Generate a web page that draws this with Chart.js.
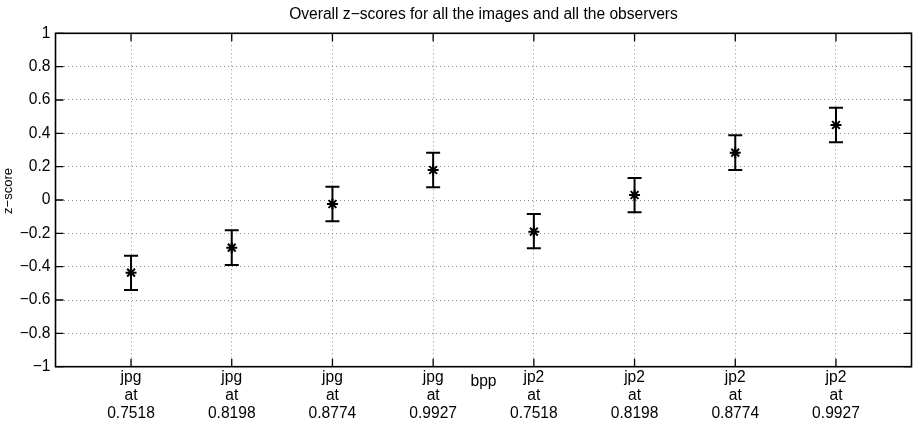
<!DOCTYPE html>
<html>
<head>
<meta charset="utf-8">
<script src="https://cdn.jsdelivr.net/npm/chart.js@4/dist/chart.umd.min.js"></script>
<style>
html,body{margin:0;padding:0;background:#fff;}
#c{display:block;}
</style>
</head>
<body>
<canvas id="c" width="919" height="423"></canvas>
<script>
// ---- data ----
const titleText = 'Overall z\u2212scores for all the images and all the observers';
const yLabelText = 'z\u2212score';
const xLabelText = 'bpp';
const positions = [1, 2, 3, 4, 5, 6, 7, 8];
const codecs = ['jpg', 'jpg', 'jpg', 'jpg', 'jp2', 'jp2', 'jp2', 'jp2'];
const bppValues = ['0.7518', '0.8198', '0.8774', '0.9927', '0.7518', '0.8198', '0.8774', '0.9927'];
const zScores = [-0.436, -0.286, -0.024, 0.180, -0.190, 0.030, 0.284, 0.450];
const upperBounds = [-0.334, -0.182, 0.080, 0.284, -0.084, 0.132, 0.388, 0.554];
const lowerBounds = [-0.540, -0.390, -0.128, 0.076, -0.290, -0.074, 0.180, 0.346];
const yTicks = [-1, -0.8, -0.6, -0.4, -0.2, 0, 0.2, 0.4, 0.6, 0.8, 1];
const yTickLabels = ['\u22121', '\u22120.8', '\u22120.6', '\u22120.4', '\u22120.2', '0', '0.2', '0.4', '0.6', '0.8', '1'];

const xTickLabels = positions.map((p, i) => [codecs[i], 'at', bppValues[i]]);
const points = positions.map((p, i) => ({x: p, y: zScores[i]}));

const FONT = "'Liberation Sans', Arial, Helvetica, sans-serif";
const FS = 15.6;

const decorPlugin = {
  id: 'decor',
  afterDatasetsDraw(chart) {
    const {ctx, chartArea: a, scales: {x, y}} = chart;
    ctx.save();
    // error bars
    ctx.strokeStyle = '#000';
    ctx.lineWidth = 2;
    const cap = 7;
    positions.forEach((p, i) => {
      const px = x.getPixelForValue(p);
      const yt = y.getPixelForValue(upperBounds[i]);
      const yb = y.getPixelForValue(lowerBounds[i]);
      ctx.beginPath();
      ctx.moveTo(px, yt); ctx.lineTo(px, yb);
      ctx.moveTo(px - cap, yt); ctx.lineTo(px + cap, yt);
      ctx.moveTo(px - cap, yb); ctx.lineTo(px + cap, yb);
      ctx.stroke();
    });
    // inward tick marks
    ctx.lineWidth = 1.3;
    const tl = 8;
    ctx.beginPath();
    positions.forEach(p => {
      const px = x.getPixelForValue(p);
      ctx.moveTo(px, a.top); ctx.lineTo(px, a.top + tl);
      ctx.moveTo(px, a.bottom); ctx.lineTo(px, a.bottom - tl);
    });
    yTicks.forEach(v => {
      const py = y.getPixelForValue(v);
      ctx.moveTo(a.left, py); ctx.lineTo(a.left + tl, py);
      ctx.moveTo(a.right, py); ctx.lineTo(a.right - tl, py);
    });
    ctx.stroke();
    // box
    ctx.lineWidth = 1.6;
    ctx.strokeRect(a.left, a.top, a.right - a.left, a.bottom - a.top);
    // texts
    ctx.fillStyle = '#000';
    const cx = (a.left + a.right) / 2;
    ctx.font = FS + 'px ' + FONT;
    ctx.textAlign = 'center';
    ctx.textBaseline = 'middle';
    ctx.fillText(titleText, cx, 14.5);
    ctx.fillText(xLabelText, cx, 381.5);
    ctx.save();
    ctx.font = '13px ' + FONT;
    ctx.translate(8.5, 191);
    ctx.rotate(-Math.PI / 2);
    ctx.fillText(yLabelText, 0, 0);
    ctx.restore();
    ctx.restore();
  }
};

new Chart(document.getElementById('c'), {
  type: 'scatter',
  data: {
    datasets: [{
      data: points,
      showLine: false,
      pointStyle: 'star',
      pointRadius: 5.5,
      pointHoverRadius: 5.5,
      borderColor: '#000',
      backgroundColor: '#000',
      borderWidth: 2
    }]
  },
  options: {
    responsive: false,
    animation: false,
    devicePixelRatio: 1,
    layout: {padding: {top: 33.3, left: 0, right: -0.5, bottom: 0}},
    plugins: {legend: {display: false}, title: {display: false}, tooltip: {enabled: false}},
    scales: {
      x: {
        type: 'linear',
        min: 0.25,
        max: 8.75,
        afterBuildTicks(scale) { scale.ticks = positions.map(v => ({value: v})); },
        afterFit(scale) { scale.height = 56.3; },
        grid: {display: true, drawTicks: false, color: '#8a8a8a', lineWidth: 1, borderDash: [1, 3]},
        border: {display: false, dash: [1, 3]},
        ticks: {
          autoSkip: false, maxRotation: 0, minRotation: 0, padding: 1.5, color: '#000',
          font: {family: FONT, size: FS, lineHeight: 1.154},
          callback(value) { return xTickLabels[positions.indexOf(value)]; }
        }
      },
      y: {
        type: 'linear',
        min: -1,
        max: 1,
        afterBuildTicks(scale) { scale.ticks = yTicks.map(v => ({value: v})); },
        afterFit(scale) { scale.width = 55.5; },
        grid: {display: true, drawTicks: false, color: '#8a8a8a', lineWidth: 1, borderDash: [1, 3]},
        border: {display: false, dash: [1, 3]},
        ticks: {
          autoSkip: false, padding: 5, color: '#000',
          font: {family: FONT, size: FS},
          callback(value) { return yTickLabels[yTicks.indexOf(value)]; }
        }
      }
    }
  },
  plugins: [decorPlugin]
});
</script>
</body>
</html>
